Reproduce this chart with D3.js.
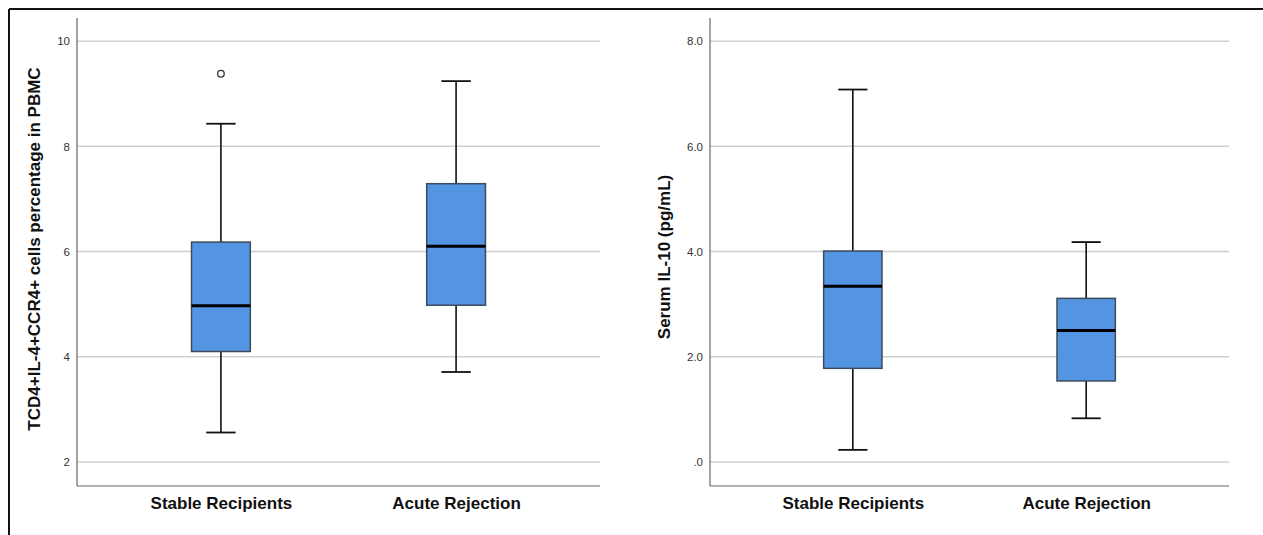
<!DOCTYPE html>
<html>
<head>
<meta charset="utf-8">
<script src="https://cdn.jsdelivr.net/npm/d3@7/dist/d3.min.js"></script>
<style>
  html, body { margin: 0; padding: 0; background: #fff; }
  svg { display: block; }
</style>
</head>
<body>
<svg id="chart" width="1263" height="535"></svg>
<script>
// ---- Data ----
const categories = ["Stable Recipients", "Acute Rejection"];

// Left panel: TCD4+IL-4+CCR4+ cells percentage in PBMC
const leftMin    = [2.56, 3.71];
const leftQ1     = [4.10, 4.98];
const leftMedian = [4.97, 6.10];
const leftQ3     = [6.18, 7.29];
const leftMax    = [8.43, 9.24];
const leftOutliers = [[9.38], []];
const leftTicks = [2, 4, 6, 8, 10];
const leftTickLabels = ["2", "4", "6", "8", "10"];

// Right panel: Serum IL-10 (pg/mL)
const rightMin    = [0.23, 0.83];
const rightQ1     = [1.78, 1.54];
const rightMedian = [3.34, 2.50];
const rightQ3     = [4.01, 3.11];
const rightMax    = [7.08, 4.18];
const rightOutliers = [[], []];
const rightTicks = [0, 2, 4, 6, 8];
const rightTickLabels = [".0", "2.0", "4.0", "6.0", "8.0"];

const svg = d3.select("#chart");

// Outer frame (top and left edges visible)
svg.append("line").attr("x1", 9).attr("x2", 1263).attr("y1", 9).attr("y2", 9)
  .attr("stroke", "#111").attr("stroke-width", 2);
svg.append("line").attr("x1", 9).attr("x2", 9).attr("y1", 9).attr("y2", 535)
  .attr("stroke", "#111").attr("stroke-width", 2);

function drawPanel(opt) {
  const g = svg.append("g");
  const x = d3.scalePoint().domain(categories).range([opt.x0, opt.x1]).padding(0.612);
  const y = d3.scaleLinear().domain(opt.domain).range([opt.yBottom, opt.yTop]);
  const step = x.step();
  const boxW = step * 0.25;
  const capW = boxW / 2;

  // Gridlines
  g.selectAll(".grid").data(opt.ticks).join("line")
    .attr("x1", opt.x0).attr("x2", opt.x1)
    .attr("y1", d => y(d)).attr("y2", d => y(d))
    .attr("stroke", "#cfcfcf").attr("stroke-width", 1.5);

  // Y axis
  const yAxis = d3.axisLeft(y).tickValues(opt.ticks)
    .tickFormat((d, i) => opt.tickLabels[i]).tickSize(0).tickPadding(7);
  const ya = g.append("g").attr("transform", `translate(${opt.x0},0)`).call(yAxis);
  ya.select(".domain").remove();
  ya.selectAll("text").attr("font-family", "Liberation Sans, Arial, sans-serif")
    .attr("font-size", 11.5).attr("fill", "#333");
  g.append("line").attr("x1", opt.x0).attr("x2", opt.x0)
    .attr("y1", opt.yTop).attr("y2", opt.yBottom)
    .attr("stroke", "#666").attr("stroke-width", 1.2);

  // X axis
  const xAxis = d3.axisBottom(x).tickSize(0).tickPadding(11);
  const xa = g.append("g").attr("transform", `translate(0,${opt.yBottom})`).call(xAxis);
  xa.select(".domain").remove();
  xa.selectAll("text").attr("font-family", "Liberation Sans, Arial, sans-serif")
    .attr("font-size", 17).attr("font-weight", "bold").attr("fill", "#111");
  g.append("line").attr("x1", opt.x0).attr("x2", opt.x1)
    .attr("y1", opt.yBottom).attr("y2", opt.yBottom)
    .attr("stroke", "#666").attr("stroke-width", 1.2);

  const data = categories.map((c, i) => ({
    c, min: opt.min[i], q1: opt.q1[i], med: opt.median[i], q3: opt.q3[i], max: opt.max[i], out: opt.outliers[i]
  }));

  const bg = g.selectAll(".box").data(data).join("g");
  // whiskers
  bg.append("line").attr("x1", d => x(d.c)).attr("x2", d => x(d.c))
    .attr("y1", d => y(d.q3)).attr("y2", d => y(d.max))
    .attr("stroke", "#111").attr("stroke-width", 1.6);
  bg.append("line").attr("x1", d => x(d.c)).attr("x2", d => x(d.c))
    .attr("y1", d => y(d.q1)).attr("y2", d => y(d.min))
    .attr("stroke", "#111").attr("stroke-width", 1.6);
  bg.append("line").attr("x1", d => x(d.c) - capW / 2).attr("x2", d => x(d.c) + capW / 2)
    .attr("y1", d => y(d.max)).attr("y2", d => y(d.max))
    .attr("stroke", "#111").attr("stroke-width", 1.8);
  bg.append("line").attr("x1", d => x(d.c) - capW / 2).attr("x2", d => x(d.c) + capW / 2)
    .attr("y1", d => y(d.min)).attr("y2", d => y(d.min))
    .attr("stroke", "#111").attr("stroke-width", 1.8);
  // box
  bg.append("rect").attr("x", d => x(d.c) - boxW / 2).attr("width", boxW)
    .attr("y", d => y(d.q3)).attr("height", d => y(d.q1) - y(d.q3))
    .attr("fill", "#5495e3").attr("stroke", "#3d4a5a").attr("stroke-width", 1.5);
  // median
  bg.append("line").attr("x1", d => x(d.c) - boxW / 2).attr("x2", d => x(d.c) + boxW / 2)
    .attr("y1", d => y(d.med)).attr("y2", d => y(d.med))
    .attr("stroke", "#000").attr("stroke-width", 3);
  // outliers
  bg.selectAll(".out").data(d => d.out.map(v => ({ c: d.c, v }))).join("circle")
    .attr("cx", d => x(d.c)).attr("cy", d => y(d.v)).attr("r", 3.3)
    .attr("fill", "#fff").attr("stroke", "#333").attr("stroke-width", 1.3);

  // Y label
  g.append("text")
    .attr("transform", `translate(${opt.labelX},${opt.labelY}) rotate(-90)`)
    .attr("text-anchor", "middle").attr("dominant-baseline", "central")
    .attr("font-family", "Liberation Sans, Arial, sans-serif")
    .attr("font-size", 17).attr("font-weight", "bold").attr("fill", "#111")
    .text(opt.label);
}

drawPanel({
  x0: 77, x1: 600, yTop: 18, yBottom: 486, domain: [1.543, 10.44],
  ticks: leftTicks, tickLabels: leftTickLabels,
  min: leftMin, q1: leftQ1, median: leftMedian, q3: leftQ3, max: leftMax, outliers: leftOutliers,
  label: "TCD4+IL-4+CCR4+ cells percentage in PBMC", labelX: 34, labelY: 249
});

drawPanel({
  x0: 710, x1: 1229, yTop: 18, yBottom: 486, domain: [-0.457, 8.44],
  ticks: rightTicks, tickLabels: rightTickLabels,
  min: rightMin, q1: rightQ1, median: rightMedian, q3: rightQ3, max: rightMax, outliers: rightOutliers,
  label: "Serum IL-10 (pg/mL)", labelX: 664, labelY: 257
});
</script>
</body>
</html>
